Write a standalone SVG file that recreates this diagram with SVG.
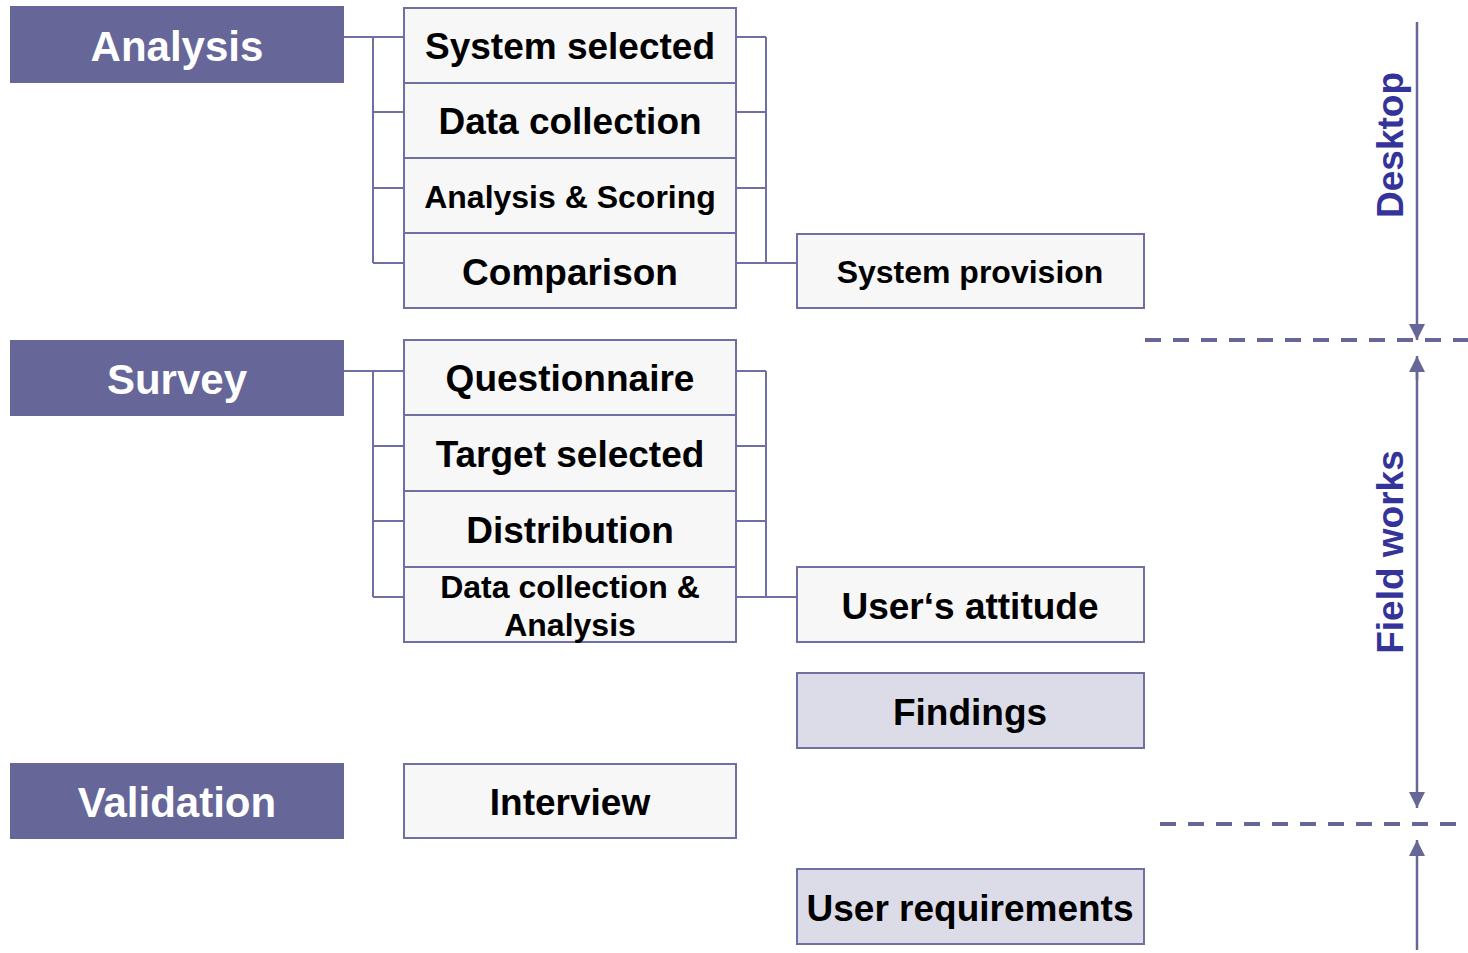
<svg xmlns="http://www.w3.org/2000/svg" width="1468" height="953" viewBox="0 0 1468 953">
<style>
.hdr{fill:#666699}
.hdrt{font-family:"Liberation Sans",Arial,sans-serif;font-weight:bold;font-size:42px;fill:#ffffff;text-anchor:middle}
.box{fill:#f7f7f7;stroke:#6f6fa3;stroke-width:2}
.box2{fill:#dcdce9;stroke:#6f6fa3;stroke-width:2}
.t{font-family:"Liberation Sans",Arial,sans-serif;font-weight:bold;font-size:37px;fill:#000;text-anchor:middle}
.ts{font-family:"Liberation Sans",Arial,sans-serif;font-weight:bold;font-size:32px;fill:#000;text-anchor:middle}
.c{fill:none;stroke:#6f6fa3;stroke-width:2}
.dash{stroke:#666699;stroke-width:4;stroke-dasharray:16 12;fill:none}
.ar{stroke:#666699;stroke-width:2.5;fill:none}
.side{font-family:"Liberation Sans",Arial,sans-serif;font-weight:bold;font-size:37px;fill:#333399;text-anchor:middle}
</style>
<defs>
<marker id="ah" viewBox="0 0 16 16" refX="16" refY="8" markerWidth="16" markerHeight="16" markerUnits="userSpaceOnUse" orient="auto">
<path d="M0,0 L16,8 L0,16 Z" fill="#666699"/>
</marker>
</defs>
<g id="connectors">
<path class="c" d="M344,37 H404 M373,37 V263 M373,112 H404 M373,188 H404 M373,263 H404"/>
<path class="c" d="M736,37 H766 M736,112 H766 M736,188 H766 M736,263 H797 M766,37 V263"/>
<path class="c" d="M344,371 H404 M373,371 V597 M373,446 H404 M373,521 H404 M373,597 H404"/>
<path class="c" d="M736,371 H766 M736,446 H766 M736,521 H766 M736,597 H797 M766,371 V597"/>
<line class="dash" x1="1145" y1="340" x2="1468" y2="340"/>
<line class="dash" x1="1160" y1="824" x2="1460" y2="824"/>
<line class="ar" x1="1417" y1="22" x2="1417" y2="340" marker-end="url(#ah)"/>
<line class="ar" x1="1417" y1="380" x2="1417" y2="356" marker-end="url(#ah)"/>
<line class="ar" x1="1417" y1="370" x2="1417" y2="808" marker-end="url(#ah)"/>
<line class="ar" x1="1417" y1="950" x2="1417" y2="840" marker-end="url(#ah)"/>
</g>
<g id="analysis"><rect class="hdr" x="10" y="6" width="334" height="77"/><text class="hdrt" x="177" y="61">Analysis</text></g>
<g id="system-selected"><rect class="box" x="404" y="8" width="332" height="75"/><text class="t" x="570" y="59">System selected</text></g>
<g id="data-collection"><rect class="box" x="404" y="83" width="332" height="75"/><text class="t" x="570" y="134">Data collection</text></g>
<g id="analysis-scoring"><rect class="box" x="404" y="158" width="332" height="75"/><text class="ts" x="570" y="208">Analysis &amp; Scoring</text></g>
<g id="comparison"><rect class="box" x="404" y="233" width="332" height="75"/><text class="t" x="570" y="285">Comparison</text></g>
<g id="system-provision"><rect class="box" x="797" y="234" width="347" height="74"/><text class="ts" x="970" y="283">System provision</text></g>
<g id="survey"><rect class="hdr" x="10" y="340" width="334" height="76"/><text class="hdrt" x="177" y="394">Survey</text></g>
<g id="questionnaire"><rect class="box" x="404" y="340" width="332" height="75"/><text class="t" x="570" y="391">Questionnaire</text></g>
<g id="target-selected"><rect class="box" x="404" y="415" width="332" height="76"/><text class="t" x="570" y="467">Target selected</text></g>
<g id="distribution"><rect class="box" x="404" y="491" width="332" height="76"/><text class="t" x="570" y="543">Distribution</text></g>
<g id="data-collection-analysis"><rect class="box" x="404" y="567" width="332" height="75"/><text class="ts" x="570" y="598">Data collection &amp;</text><text class="ts" x="570" y="636">Analysis</text></g>
<g id="users-attitude"><rect class="box" x="797" y="567" width="347" height="75"/><text class="t" x="970" y="619">User‘s attitude</text></g>
<g id="findings"><rect class="box2" x="797" y="673" width="347" height="75"/><text class="t" x="970" y="725">Findings</text></g>
<g id="validation"><rect class="hdr" x="10" y="763" width="334" height="76"/><text class="hdrt" x="177" y="817">Validation</text></g>
<g id="interview"><rect class="box" x="404" y="764" width="332" height="74"/><text class="t" x="570" y="815">Interview</text></g>
<g id="user-requirements"><rect class="box2" x="797" y="869" width="347" height="75"/><text class="t" x="970" y="921">User requirements</text></g>
<g id="desktop-label"><text class="side" transform="translate(1403,145) rotate(-90)">Desktop</text></g>
<g id="fieldworks-label"><text class="side" transform="translate(1403,552) rotate(-90)">Field works</text></g>
</svg>
